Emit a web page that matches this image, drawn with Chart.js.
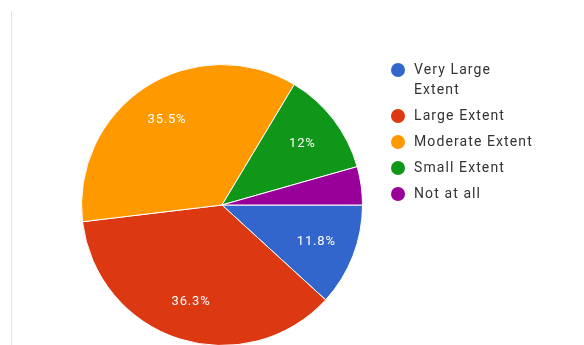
<!DOCTYPE html>
<html>
<head>
<meta charset="utf-8">
<script src="https://cdn.jsdelivr.net/npm/chart.js@4/dist/chart.umd.min.js"></script>
<style>
  html, body { margin: 0; padding: 0; background: #fff; overflow: hidden; }
  #wrap { position: relative; width: 584px; height: 360px; }
  #edge { position: absolute; left: 11px; top: 11px; width: 1px; height: 360px; background: #e2e2e2; }
  canvas { position: absolute; left: 0; top: 0; }
</style>
</head>
<body>
<div id="wrap">
  <canvas id="c" width="584" height="360"></canvas>
  <div id="edge"></div>
</div>
<script>
const categories = ["Very Large Extent", "Large Extent", "Moderate Extent", "Small Extent", "Not at all"];
const legendLines = [["Very Large", "Extent"], ["Large Extent"], ["Moderate Extent"], ["Small Extent"], ["Not at all"]];
const values = [11.8, 36.3, 35.5, 12, 4.4];
const sliceLabels = ["11.8%", "36.3%", "35.5%", "12%", ""];
const colors = ["#3366cc", "#dc3912", "#ff9900", "#109618", "#990099"];

const sliceLabelPlugin = {
  id: 'sliceLabels',
  afterDatasetsDraw(chart) {
    const ctx = chart.ctx;
    const meta = chart.getDatasetMeta(0);
    ctx.save();
    ctx.fillStyle = '#ffffff';
    ctx.font = '13px Roboto, Arial, sans-serif';
    ctx.letterSpacing = '0.8px';
    ctx.textAlign = 'center';
    ctx.textBaseline = 'middle';
    meta.data.forEach((arc, i) => {
      const t = sliceLabels[i];
      if (!t) return;
      const p = arc.getProps(['x', 'y', 'startAngle', 'endAngle', 'outerRadius'], true);
      const mid = (p.startAngle + p.endAngle) / 2;
      const r = p.outerRadius * 0.72;
      ctx.fillText(t, p.x + Math.cos(mid) * r, p.y + Math.sin(mid) * r);
    });
    ctx.restore();
  }
};

const legendPlugin = {
  id: 'sideLegend',
  afterDraw(chart) {
    const ctx = chart.ctx;
    ctx.save();
    ctx.font = '14px Roboto, Arial, sans-serif';
    ctx.letterSpacing = '1.1px';
    ctx.textBaseline = 'middle';
    ctx.textAlign = 'left';
    let y = 70;
    const lineH = 20;
    const gap = 26;
    legendLines.forEach((lines, i) => {
      ctx.beginPath();
      ctx.fillStyle = colors[i];
      ctx.arc(398, y, 7, 0, Math.PI * 2);
      ctx.fill();
      ctx.fillStyle = '#333333';
      lines.forEach((ln, j) => ctx.fillText(ln, 414, y + j * lineH));
      y += gap + (lines.length - 1) * lineH;
    });
    ctx.restore();
  }
};

new Chart(document.getElementById('c'), {
  type: 'pie',
  data: {
    labels: categories,
    datasets: [{
      data: values,
      backgroundColor: colors,
      borderColor: '#ffffff',
      borderWidth: 1
    }]
  },
  options: {
    responsive: false,
    animation: false,
    rotation: 90,
    layout: { padding: { left: 81, right: 221, top: 64, bottom: 14 } },
    plugins: {
      legend: { display: false },
      tooltip: { enabled: false }
    }
  },
  plugins: [sliceLabelPlugin, legendPlugin]
});
</script>
</body>
</html>
